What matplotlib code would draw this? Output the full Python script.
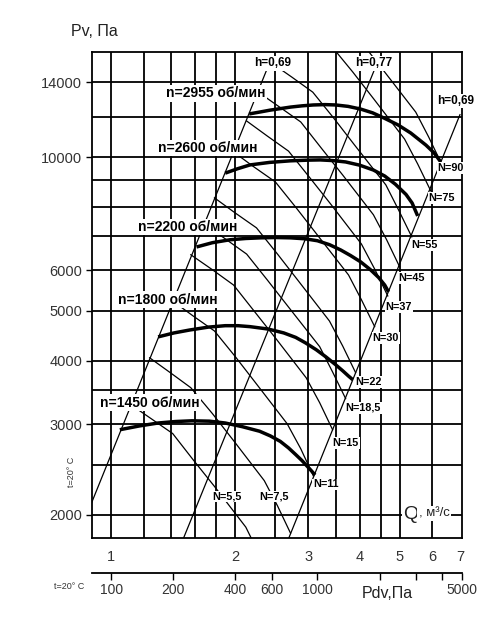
import numpy as np
import matplotlib
matplotlib.use("Agg")
import matplotlib.pyplot as plt
from matplotlib.ticker import NullLocator, NullFormatter

plt.rcParams["font.family"] = ["Liberation Sans", "DejaVu Sans"]

# grid values
grid_q = [1, 1.2, 1.4, 1.6, 1.8, 2, 2.5, 3, 3.5, 4, 4.5, 5, 6]
grid_p = [2000, 2500, 3000, 3500, 4000, 5000, 6000, 7000, 8000, 9000, 10000, 12000, 14000]
q_ticks = [1, 2, 3, 4, 5, 6, 7]
p_ticks = [2000, 3000, 4000, 5000, 6000, 10000, 14000]
pdv_ticks = [100, 200, 400, 600, 1000, 2000, 3000, 4000, 5000]
pdv_labels = ["100", "200", "400", "600", "1000", "", "", "", "5000"]

# fan curves (thick), Q m3/s vs Pv Pa
speeds = ["n=2955 об/мин", "n=2600 об/мин", "n=2200 об/мин", "n=1800 об/мин", "n=1450 об/мин"]
n2955_q = [2.16, 2.30, 2.43, 2.58, 2.72, 2.90, 3.09, 3.30, 3.50, 3.75, 4.02, 4.30, 4.58,
           4.95, 5.32, 5.79, 6.05, 6.29]
n2955_p = [12140, 12250, 12350, 12440, 12520, 12590, 12640, 12660, 12640, 12560, 12410,
           12200, 11920, 11560, 11140, 10550, 10200, 9780]
n2600_q = [1.89, 2.02, 2.17, 2.42, 2.72, 3.00, 3.21, 3.45, 3.70, 4.00, 4.32, 4.60, 4.88,
           5.18, 5.36, 5.53]
n2600_p = [9300, 9480, 9650, 9760, 9830, 9860, 9870, 9840, 9780, 9640, 9430, 9180, 8850,
           8450, 8130, 7670]
n2200_q = [1.61, 1.76, 1.94, 2.12, 2.30, 2.50, 2.72, 2.95, 3.16, 3.38, 3.60, 3.80, 4.02,
           4.25, 4.45, 4.60, 4.70]
n2200_p = [6670, 6800, 6890, 6930, 6950, 6960, 6950, 6920, 6860, 6740, 6580, 6420, 6240,
           6020, 5810, 5620, 5450]
n1800_q = [1.30, 1.42, 1.55, 1.72, 1.89, 2.03, 2.17, 2.40, 2.62, 2.80, 2.96, 3.14, 3.31,
           3.48, 3.64, 3.76, 3.85]
n1800_p = [4450, 4530, 4590, 4650, 4680, 4680, 4660, 4610, 4530, 4440, 4330, 4200, 4070,
           3940, 3820, 3730, 3670]
n1450_q = [1.05, 1.17, 1.30, 1.43, 1.57, 1.73, 1.89, 2.08, 2.29, 2.43, 2.57, 2.69, 2.80,
           2.90, 2.98, 3.05, 3.12]
n1450_p = [2930, 2980, 3020, 3040, 3050, 3045, 3020, 2970, 2910, 2850, 2780, 2700, 2620,
           2550, 2490, 2440, 2390]
speed_label_q = [1.79, 1.71, 1.53, 1.37, 1.24]
speed_label_p = [13330, 10410, 7300, 5260, 3310]

# efficiency lines (h = eta)
eta_left_q = [0.88, 2.45]
eta_left_p = [2030, 15660]
eta_mid_q = [1.49, 4.42]
eta_mid_p = [1780, 15330]
eta_right_q = [2.68, 7.0]
eta_right_p = [1780, 12100]
eta_labels = ["h=0,69", "h=0,77", "h=0,69"]
eta_label_q = [2.46, 4.33, 6.84]
eta_label_p = [15260, 15260, 12870]

# power lines N, kW
power_names = ["N=5,5", "N=7,5", "N=11", "N=15", "N=18,5", "N=22",
               "N=30", "N=37", "N=45", "N=55", "N=75", "N=90"]
n5_5_q = [1.11, 1.25, 1.41, 1.58, 1.78, 2.12, 2.27, 2.45]
n5_5_p = [3290, 3080, 2880, 2560, 2270, 1890, 1690, 1500]
n7_5_q = [1.24, 1.39, 1.56, 1.76, 1.98, 2.35, 2.53, 2.72]
n7_5_p = [4050, 3790, 3540, 3150, 2790, 2330, 2080, 1840]
n11_q = [1.41, 1.58, 1.78, 2.00, 2.25, 2.67, 2.88, 3.09]
n11_p = [5230, 4890, 4570, 4070, 3600, 3010, 2690, 2380]
n15_q = [1.56, 1.76, 1.98, 2.22, 2.50, 2.97, 3.20, 3.44]
n15_p = [6440, 6020, 5620, 5000, 4430, 3700, 3310, 2930]
n18_5_q = [1.68, 1.89, 2.13, 2.39, 2.69, 3.20, 3.44, 3.70]
n18_5_p = [7400, 6920, 6460, 5750, 5090, 4260, 3800, 3370]
n22_q = [1.78, 2.00, 2.25, 2.53, 2.84, 3.38, 3.64, 3.91]
n22_p = [8320, 7770, 7270, 6460, 5730, 4780, 4270, 3790]
n30_q = [1.98, 2.22, 2.50, 2.81, 3.16, 3.76, 4.04, 4.35]
n30_p = [10230, 9560, 8940, 7950, 7040, 5880, 5260, 4660]
n37_q = [2.13, 2.39, 2.69, 3.02, 3.40, 4.04, 4.35, 4.68]
n37_p = [11760, 10990, 10270, 9140, 8100, 6760, 6040, 5350]
n45_q = [2.27, 2.56, 2.88, 3.23, 3.64, 4.32, 4.65, 5.00]
n45_p = [13400, 12520, 11710, 10410, 9220, 7710, 6890, 6100]
n55_q = [2.43, 2.74, 3.08, 3.46, 3.89, 4.63, 4.97, 5.35]
n55_p = [15330, 14330, 13390, 11920, 10550, 8820, 7880, 6980]
n75_q = [2.71, 3.04, 3.42, 3.85, 4.33, 5.14, 5.53, 5.95]
n75_p = [18860, 17620, 16470, 14660, 12980, 10840, 9690, 8580]
n90_q = [2.88, 3.23, 3.64, 4.09, 4.60, 5.47, 5.88, 6.32]
n90_p = [21290, 19900, 18600, 16550, 14660, 12240, 10940, 9690]
power_label_q = [1.76, 2.29, 3.09, 3.44, 3.70, 3.91, 4.30, 4.62, 4.97, 5.32, 5.88, 6.18]
power_label_p = [2170, 2170, 2290, 2760, 3235, 3635, 4430, 5090, 5800, 6730, 8320, 9520]

fig = plt.figure(figsize=(5.0, 6.27), dpi=100)
ax = fig.add_axes([0.184, 0.142, 0.740, 0.775])
ax.set_xscale("log")
ax.set_yscale("log")
ax.set_xlim(0.899, 7.08)
ax.set_ylim(1800, 16040)

for q in grid_q:
    ax.axvline(q, color="black", lw=1.3, zorder=1)
for p in grid_p:
    ax.axhline(p, color="black", lw=1.3, zorder=1)

thin = dict(color="black", lw=0.9, zorder=2)
for qs, ps in [(eta_left_q, eta_left_p), (eta_mid_q, eta_mid_p), (eta_right_q, eta_right_p)]:
    ax.plot(qs, ps, **thin)
power_lines = [(n5_5_q, n5_5_p), (n7_5_q, n7_5_p), (n11_q, n11_p), (n15_q, n15_p),
               (n18_5_q, n18_5_p), (n22_q, n22_p), (n30_q, n30_p), (n37_q, n37_p),
               (n45_q, n45_p), (n55_q, n55_p), (n75_q, n75_p), (n90_q, n90_p)]
for qs, ps in power_lines:
    ax.plot(qs, ps, **thin)

fan_curves = [(n2955_q, n2955_p), (n2600_q, n2600_p), (n2200_q, n2200_p),
              (n1800_q, n1800_p), (n1450_q, n1450_p)]
for qs, ps in fan_curves:
    ax.plot(qs, ps, color="black", lw=2.5, solid_capstyle="butt",
            solid_joinstyle="round", zorder=3)

box = dict(facecolor="white", edgecolor="none", pad=1.0)
for name, q, p in zip(speeds, speed_label_q, speed_label_p):
    ax.text(q, p, name, ha="center", va="center", fontsize=10, fontweight="bold",
            bbox=box, zorder=5)
for name, q, p in zip(eta_labels, eta_label_q, eta_label_p):
    ax.text(q, p, name, ha="center", va="center", fontsize=8.5, fontweight="bold",
            bbox=box, zorder=5, clip_on=False)
for name, q, p in zip(power_names, power_label_q, power_label_p):
    ax.text(q, p, name, ha="left", va="center", fontsize=7.8, fontweight="bold",
            bbox=dict(facecolor="white", edgecolor="none", pad=0.6), zorder=5)

ax.text(5.56, 2000, "Q", ha="right", va="center", fontsize=14, color="#222222",
        bbox=box, zorder=5)
ax.text(5.56, 2010, ", м³/с", ha="left", va="center", fontsize=9.5, color="#222222",
        bbox=box, zorder=5)

for s in ax.spines.values():
    s.set_linewidth(1.3)

ax.set_xticks(q_ticks)
ax.set_xticklabels([str(v) for v in q_ticks])
ax.xaxis.set_minor_locator(NullLocator())
ax.xaxis.set_minor_formatter(NullFormatter())
ax.tick_params(axis="x", length=0, pad=9, labelsize=10.5, labelcolor="#333333")
ax.set_yticks(p_ticks)
ax.set_yticklabels([str(v) for v in p_ticks])
ax.yaxis.set_minor_locator(NullLocator())
ax.yaxis.set_minor_formatter(NullFormatter())
ax.tick_params(axis="y", length=4, width=1.0, pad=3, labelsize=10.5, labelcolor="#333333")

sec = ax.secondary_xaxis(-0.072, functions=(lambda q: 100.0 * np.asarray(q) ** 2,
                                            lambda p: np.sqrt(np.maximum(np.asarray(p), 1e-9) / 100.0)))
sec.set_xticks(pdv_ticks)
sec.set_xticklabels(pdv_labels)
sec.xaxis.set_minor_locator(NullLocator())
sec.xaxis.set_minor_formatter(NullFormatter())
sec.tick_params(axis="x", length=5, width=1.0, pad=2, labelsize=10, labelcolor="#333333")
sec.spines["bottom"].set_linewidth(1.3)

fig.text(0.188, 0.949, "Pv, Па", ha="center", va="center", fontsize=11.5, color="#222222")
fig.text(0.774, 0.054, "Pdv,Па", ha="center", va="center", fontsize=11.5, color="#222222")
fig.text(0.138, 0.064, "t=20° C", ha="center", va="center", fontsize=6.5, color="#333333")
fig.text(0.144, 0.247, "t=20° C", ha="center", va="center", fontsize=6.5, color="#333333",
         rotation=90)

fig.savefig("out.png", dpi=100)
